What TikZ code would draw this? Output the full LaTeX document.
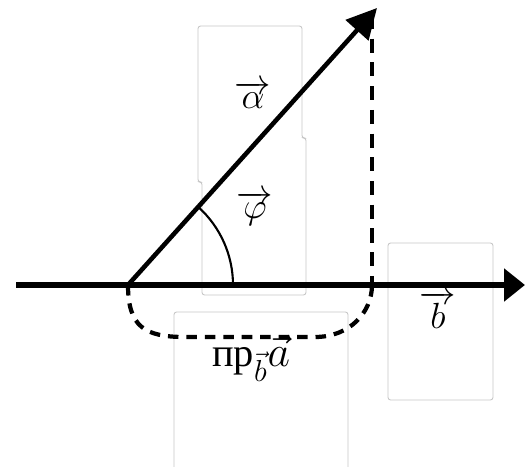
\documentclass[tikz,border=0pt]{standalone}
\usepackage{fontspec}
\newfontfamily\cyrfont{Liberation Serif}
\usetikzlibrary{arrows.meta}
\tikzset{
  axisline/.style={line width=3.2pt, -{Triangle[length=0.42cm,width=0.64cm]}},
  vecline/.style={line width=2.6pt, -{Triangle[length=0.6cm,width=0.6cm]}},
  dashline/.style={line width=2.4pt, dash pattern=on 6pt off 4.5pt},
  labelbox/.style={draw=gray!45, line width=0.5pt, rounded corners=1.5pt},
  lbl/.style={font=\fontsize{20}{24}\selectfont, inner sep=0pt},
}
\begin{document}
\begin{tikzpicture}[x=0.02cm, y=0.02cm]
  \useasboundingbox (0,0) rectangle (525,467);
  \clip (0,0) rectangle (525,467);
  % text frames
  \draw[labelbox] (198,441) -- (302,441) -- (302,329) -- (306,329) -- (306,172)
    -- (202,172) -- (202,285) -- (198,285) -- cycle;
  \draw[labelbox] (388,224) rectangle (493,67);
  \draw[labelbox] (174,155) rectangle (348,-10);
  % points
  \coordinate (O) at (128,182);
  \coordinate (A) at (377,459);
  \coordinate (P) at (372,182);
  \coordinate (Ptop) at (372,452);
  \coordinate (X0) at (16,182);
  \coordinate (X1) at (525,182);
  % projection
  \draw[dashline, dash pattern=on 8pt off 5.5pt] (Ptop) -- (P);
  \draw[dashline] (O) .. controls (128,140) and (145,130) .. (185,130) -- (315,130)
    .. controls (350,130) and (372,155) .. (P);
  % axis and vector
  \draw[axisline] (X0) -- (X1);
  \draw[vecline] (O) -- (A);
  \draw[line width=1.2pt] (233,182) arc[start angle=0, end angle=48, radius=2.1cm];
  % labels
  \node[lbl] (la) at (253,372) {$\overrightarrow{\alpha}$};
  \node[lbl] (lphi) at (255,259) {$\overrightarrow{\varphi}$};
  \node[lbl] (lb) at (438,157) {$\overrightarrow{b}$};
  \node[lbl, anchor=base west, font=\fontsize{23}{26}\selectfont] (lpr) at (212,100)
    {\cyrfont пр$_{\vec b}\vec{a}$};
\end{tikzpicture}
\end{document}
